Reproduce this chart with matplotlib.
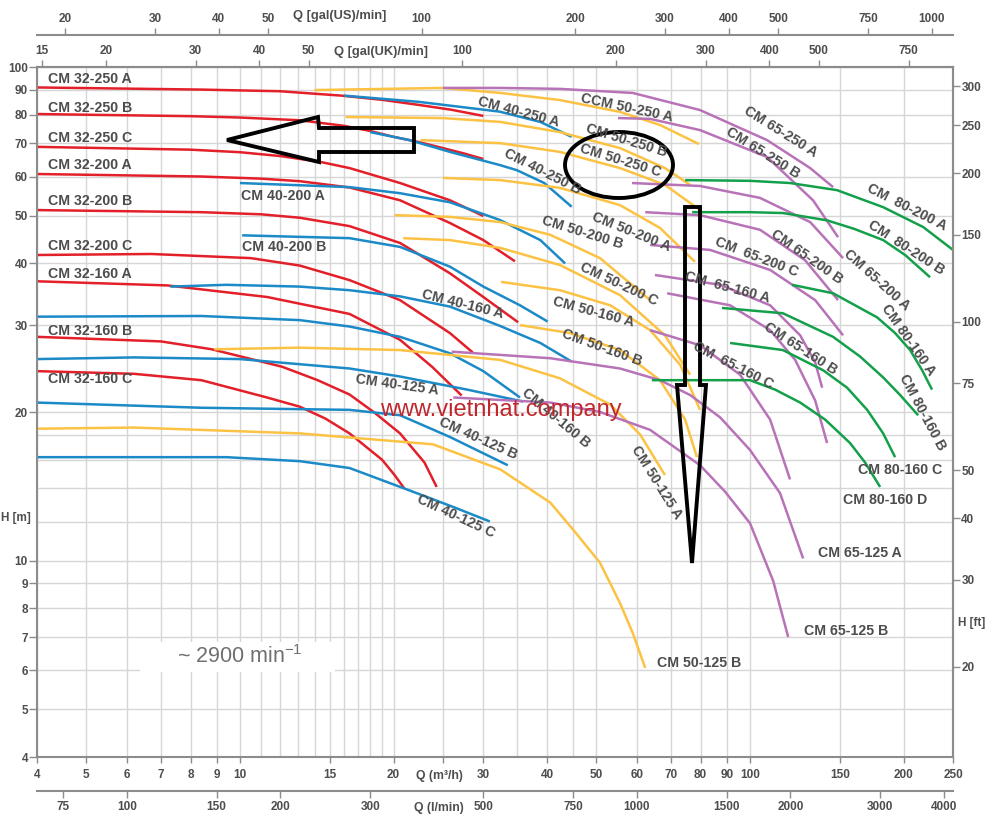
import matplotlib
matplotlib.use("Agg")
import matplotlib.pyplot as plt
from matplotlib.ticker import FixedLocator, NullLocator, NullFormatter
from matplotlib.patches import Polygon, Ellipse, Rectangle

# ---------------- data: Q [m3/h], H [m] ----------------
# CM 32 (red)
q_32_250_A = [4, 8.4, 12, 15.8, 19, 22.4, 26, 30]
h_32_250_A = [90.9, 90.0, 89.3, 87.5, 85.8, 83.8, 81.9, 79.6]
q_32_250_B = [4, 8, 10, 13.1, 16, 18, 20, 22.5, 25, 27.5, 30]
h_32_250_B = [80.3, 79.5, 79.0, 78.0, 76.0, 74.2, 72.2, 70.4, 68.5, 66.8, 65.1]
q_32_250_C = [4, 8, 10, 12, 14.4, 16.4, 20.6, 25.8, 30]
h_32_250_C = [68.9, 68.0, 67.2, 66.0, 64.2, 62.4, 58.2, 53.7, 49.9]
q_32_200_A = [4, 8.4, 11, 13.1, 16.4, 20.6, 25.8, 30, 34.6]
h_32_200_A = [60.7, 60.0, 59.4, 58.7, 57.0, 53.7, 48.3, 44.6, 40.4]
q_32_200_B = [4, 8.4, 11, 13.1, 16.4, 20.6, 25.8, 30, 35.1]
h_32_200_B = [51.3, 50.8, 50.3, 49.5, 47.6, 44.0, 38.2, 34.2, 30.4]
q_32_200_C = [4, 6.7, 10.5, 13.1, 16.4, 20.6, 25.8, 28.6]
h_32_200_C = [41.6, 41.8, 41.0, 39.6, 37.0, 33.7, 28.9, 26.4]
q_32_160_A = [4, 7.2, 11.3, 16.4, 20.6, 23.8, 27.2]
h_32_160_A = [36.8, 36.1, 34.2, 31.6, 28.0, 24.7, 21.6]
q_32_160_B = [4, 7.0, 8.8, 12.1, 14.2, 16.4, 18.4, 20.6, 23.0, 24.3]
h_32_160_B = [28.4, 27.8, 26.8, 24.7, 23.2, 21.7, 19.9, 18.1, 15.8, 14.1]
q_32_160_C = [4, 6.2, 8.4, 11.3, 13.1, 14.7, 16.4, 19.0, 20.1, 21.0]
h_32_160_C = [24.2, 23.9, 23.2, 21.4, 20.5, 19.4, 18.1, 16.0, 14.9, 14.0]

# CM 40 (blue)
q_40_250_A = [16.0, 22.4, 32.3, 38.8, 44.7]
h_40_250_A = [87.5, 85.0, 81.2, 77.4, 72.2]
q_40_250_B = [18.0, 21.5, 25.8, 32.3, 34.9, 39.5, 44.7]
h_40_250_B = [73.8, 71.1, 67.3, 63.3, 61.8, 58.2, 52.1]
q_40_200_A = [10.0, 16.4, 20.6, 25.8, 32.3, 38.8, 43.4]
h_40_200_A = [58.2, 57.1, 55.5, 53.2, 49.0, 44.6, 40.0]
q_40_200_B = [10.1, 16.4, 20.6, 25.8, 30.0, 35.4, 40.1]
h_40_200_B = [45.6, 45.0, 43.2, 39.4, 35.9, 32.9, 30.5]
q_40_160_A = [7.3, 9.4, 13.1, 16.4, 20.6, 25.8, 32.3, 38.8, 44.7]
h_40_160_A = [35.9, 36.2, 35.9, 35.3, 34.3, 32.7, 29.9, 27.6, 25.3]
q_40_160_B = [4, 8.4, 13.1, 16.4, 20.6, 25.8, 30, 35.4]
h_40_160_B = [31.2, 31.3, 30.7, 29.8, 28.4, 26.3, 24.2, 21.4]
q_40_125_A = [4, 6.2, 10, 16.4, 20.6, 27.9, 35.9]
h_40_125_A = [25.6, 25.8, 25.6, 24.5, 23.6, 22.2, 21.0]
q_40_125_B = [4, 8.4, 16.4, 20.6, 25.8, 33.5]
h_40_125_B = [20.9, 20.4, 20.2, 19.7, 17.8, 15.6]
q_40_125_C = [4, 9.4, 13.1, 16.4, 22.2, 26.4, 30.9]
h_40_125_C = [16.2, 16.2, 15.9, 15.4, 13.7, 12.8, 12.0]

# CM 50 (yellow)
q_50_250_A = [14.0, 25.0, 32.4, 42.4, 55.6, 66.6, 79.4]
h_50_250_A = [89.8, 90.7, 88.6, 85.7, 81.1, 76.3, 69.8]
q_50_250_B = [16.1, 25.0, 32.4, 42.4, 55.6, 68.1, 76.3]
h_50_250_B = [79.2, 78.8, 77.4, 73.8, 68.5, 62.4, 57.7]
q_50_250_C = [22.6, 32.4, 42.4, 55.6, 68.1, 79.8]
h_50_250_C = [71.1, 70.1, 67.3, 62.4, 57.7, 51.3]
q_50_200_A = [25.0, 32.4, 42.4, 55.6, 66.6, 78.0]
h_50_200_A = [59.6, 59.0, 56.9, 52.5, 47.2, 40.3]
q_50_200_B = [20.1, 25.8, 32.4, 40.6, 50.8, 63.7]
h_50_200_B = [50.1, 49.7, 48.5, 45.7, 41.0, 33.7]
q_50_200_C = [20.9, 25.8, 32.4, 42.4, 55.6, 68.1, 76.3]
h_50_200_C = [45.0, 44.6, 43.0, 39.7, 34.5, 28.6, 23.8]
q_50_160_A = [32.5, 42.4, 53.2, 63.7, 73.0, 79.8]
h_50_160_A = [36.7, 35.3, 32.9, 29.3, 24.9, 20.2]
q_50_160_B = [35.4, 44.4, 55.6, 66.6, 74.6, 78.7]
h_50_160_B = [30.0, 28.9, 26.7, 23.2, 19.3, 16.2]
q_50_125_A = [8.9, 13.1, 20.6, 32.4, 42.4, 53.2, 60.9, 68.1]
h_50_125_A = [26.8, 27.0, 26.7, 25.5, 23.4, 20.7, 18.0, 14.9]
q_50_125_B = [4, 6.2, 13.1, 23.9, 32.4, 40.6, 45.0, 50.8, 55.6, 58.9, 62.3]
h_50_125_B = [18.5, 18.6, 18.1, 17.2, 15.3, 13.1, 11.55, 9.9, 8.2, 7.13, 6.06]

# CM 65 (purple)
q_65_250_A = [25.0, 32.4, 42.4, 58.9, 79.8, 108, 131.2, 145.5]
h_65_250_A = [90.7, 90.7, 90.3, 88.6, 81.8, 71.1, 62.4, 57.1]
q_65_250_B = [55.1, 63.7, 79.8, 108, 132.9, 148.8]
h_65_250_B = [78.8, 78.5, 74.5, 65.7, 53.7, 45.2]
q_65_200_A = [58.7, 79.8, 104.6, 131.2, 152.2]
h_65_200_A = [58.2, 57.4, 54.3, 48.5, 41.0]
q_65_200_B = [62.3, 79.8, 104.6, 128.2, 148.8]
h_65_200_B = [50.8, 50.1, 46.8, 40.6, 33.7]
q_65_200_C = [63.7, 83.5, 109.5, 134.2, 152.2]
h_65_200_C = [43.6, 42.6, 38.8, 33.7, 28.6]
q_65_160_A = [65.1, 87.4, 109.5, 125.4, 134.2, 138.5]
h_65_160_A = [37.9, 36.2, 32.9, 28.6, 25.2, 22.4]
q_65_160_B = [68.8, 91.4, 109.5, 122.6, 134.2, 141.6]
h_65_160_B = [34.8, 32.9, 29.3, 25.5, 21.1, 17.3]
q_65_160_C = [63.7, 79.8, 95.6, 109.5, 119.8]
h_65_160_C = [29.3, 27.3, 23.8, 19.3, 14.6]
q_65_125_A = [26.0, 40.6, 55.6, 66.6, 76.3, 87.4, 100, 114.5, 127.1]
h_65_125_A = [26.5, 25.7, 24.5, 23.2, 21.65, 19.5, 16.75, 13.7, 10.1]
q_65_125_B = [26.2, 40.6, 50.8, 63.7, 79.8, 89.3, 100, 111, 118.8]
h_65_125_B = [21.4, 20.9, 20.0, 18.4, 15.6, 13.8, 11.9, 9.1, 7.0]

# CM 80 (green)
q_80_200_A = [74.6, 100, 119.8, 148.1, 182.4, 218.5, 250]
h_80_200_A = [59.0, 58.8, 58.2, 56.3, 52.0, 47.4, 42.6]
q_80_200_B = [77.0, 100, 116, 141.6, 160, 182.4, 201.4, 225.4]
h_80_200_B = [50.8, 50.8, 50.6, 48.9, 47.0, 44.6, 41.6, 37.5]
q_80_160_A = [120.9, 145.5, 177.5, 192.5, 206, 217.5, 227.4]
h_80_160_A = [36.2, 34.8, 31.1, 28.9, 26.7, 24.3, 22.2]
q_80_160_B = [88.1, 116, 145.5, 164.4, 182.4, 196.9, 213.6]
h_80_160_B = [32.5, 31.7, 28.4, 25.9, 23.5, 21.65, 19.7]
q_80_160_C = [91.4, 116, 139.1, 155, 169.7, 182.4, 192.5]
h_80_160_C = [27.6, 26.7, 24.3, 22.4, 20.2, 18.1, 16.2]
q_80_160_D = [64.2, 100, 112, 125.4, 140.4, 157.1, 168.1, 179.9]
h_80_160_D = [23.2, 23.2, 22.2, 20.9, 19.3, 17.3, 15.8, 14.1]

# axis ticks
q_ticks = [4, 5, 6, 7, 8, 9, 10, 15, 20, 25, 30, 40, 50, 60, 70, 80, 90, 100, 150, 200, 250]
q_tick_labels = ['4', '5', '6', '7', '8', '9', '10', '15', '20', '', '30', '40', '50', '60',
                 '70', '80', '90', '100', '150', '200', '250']
q_grid_minor = [11, 12, 13, 14, 16, 17, 18, 19, 35, 45]
h_ticks = [4, 5, 6, 7, 8, 9, 10, 20, 30, 40, 50, 60, 70, 80, 90, 100]
h_grid_minor = [12, 14, 16, 18]
ft_ticks = [20, 30, 40, 50, 75, 100, 150, 200, 250, 300]
lmin_ticks = [75, 100, 150, 200, 300, 500, 750, 1000, 1500, 2000, 3000, 4000]
uk_ticks = [15, 20, 30, 40, 50, 100, 200, 300, 400, 500, 750]
us_ticks = [20, 30, 40, 50, 100, 200, 300, 400, 500, 750, 1000]

# ---------------- style ----------------
plt.rcParams['font.family'] = ['Liberation Sans', 'DejaVu Sans']
plt.rcParams['mathtext.fontset'] = 'custom'
plt.rcParams['mathtext.rm'] = 'Liberation Sans'
plt.rcParams['mathtext.it'] = 'Liberation Sans'
plt.rcParams['mathtext.bf'] = 'Liberation Sans:bold'

RED, BLUE, YEL, PUR, GRN = '#e3202a', '#1b8ac7', '#fcc244', '#b873b8', '#14a04b'
TXT = '#4d4d4d'
AXC = '#8c8c8c'
GRID = '#d6d6d6'

fig = plt.figure(figsize=(10, 8.22), dpi=100)
ax = fig.add_axes([0.037, 1 - 757 / 822, 0.916, 690 / 822])
ax.set_xscale('log')
ax.set_yscale('log')
ax.set_xlim(4, 250)
ax.set_ylim(4, 100)

ax.set_xticks(q_ticks, labels=q_tick_labels)
ax.set_yticks(h_ticks, labels=[str(t) for t in h_ticks])
ax.xaxis.set_minor_locator(FixedLocator(q_grid_minor))
ax.yaxis.set_minor_locator(FixedLocator(h_grid_minor))
ax.xaxis.set_minor_formatter(NullFormatter())
ax.yaxis.set_minor_formatter(NullFormatter())
ax.grid(True, which='both', color=GRID, lw=1.0)
ax.set_axisbelow(True)
ax.tick_params(which='minor', length=0)
ax.tick_params(axis='x', which='major', length=4.5, width=1, color=AXC, pad=4,
               labelsize=8.5, labelcolor=TXT)
ax.tick_params(axis='y', which='major', length=5.5, width=1, color=AXC, pad=1,
               labelsize=8.5, labelcolor=TXT)
for lab in ax.get_xticklabels() + ax.get_yticklabels():
    lab.set_fontweight('bold')
for s in ax.spines.values():
    s.set_color(AXC)
    s.set_linewidth(1.5)


def style_sec(sec, axis, pad):
    sec.tick_params(axis=axis, which='major', length=5, width=1, color=AXC, pad=pad,
                    labelsize=8.5, labelcolor=TXT)
    if axis == 'x':
        sec.xaxis.set_minor_locator(NullLocator())
        labs = sec.get_xticklabels()
    else:
        sec.yaxis.set_minor_locator(NullLocator())
        labs = sec.get_yticklabels()
    for lab in labs:
        lab.set_fontweight('bold')
    for s in sec.spines.values():
        s.set_color(AXC)
        s.set_linewidth(1.5)


uk = ax.secondary_xaxis('top', functions=(lambda q: q * 3.6662, lambda g: g / 3.6662))
uk.set_xticks(uk_ticks, labels=[str(t) for t in uk_ticks])
style_sec(uk, 'x', 2)

us = ax.secondary_xaxis(1 + 32 / 690, functions=(lambda q: q * 4.4029, lambda g: g / 4.4029))
us.set_xticks(us_ticks, labels=[str(t) for t in us_ticks])
style_sec(us, 'x', 2)

lm = ax.secondary_xaxis(-34 / 690, functions=(lambda q: q * 16.667, lambda l: l / 16.667))
lm.set_xticks(lmin_ticks, labels=[str(t) for t in lmin_ticks])
style_sec(lm, 'x', 2)

ft = ax.secondary_yaxis('right', functions=(lambda h: h * 3.28084, lambda f: f / 3.28084))
ft.set_yticks(ft_ticks, labels=[str(t) for t in ft_ticks])
style_sec(ft, 'y', 1)

# ---------------- curves ----------------
curves = [
    (q_32_250_A, h_32_250_A, RED), (q_32_250_B, h_32_250_B, RED), (q_32_250_C, h_32_250_C, RED),
    (q_32_200_A, h_32_200_A, RED), (q_32_200_B, h_32_200_B, RED), (q_32_200_C, h_32_200_C, RED),
    (q_32_160_A, h_32_160_A, RED), (q_32_160_B, h_32_160_B, RED), (q_32_160_C, h_32_160_C, RED),
    (q_40_250_A, h_40_250_A, BLUE), (q_40_250_B, h_40_250_B, BLUE), (q_40_200_A, h_40_200_A, BLUE),
    (q_40_200_B, h_40_200_B, BLUE), (q_40_160_A, h_40_160_A, BLUE), (q_40_160_B, h_40_160_B, BLUE),
    (q_40_125_A, h_40_125_A, BLUE), (q_40_125_B, h_40_125_B, BLUE), (q_40_125_C, h_40_125_C, BLUE),
    (q_50_250_A, h_50_250_A, YEL), (q_50_250_B, h_50_250_B, YEL), (q_50_250_C, h_50_250_C, YEL),
    (q_50_200_A, h_50_200_A, YEL), (q_50_200_B, h_50_200_B, YEL), (q_50_200_C, h_50_200_C, YEL),
    (q_50_160_A, h_50_160_A, YEL), (q_50_160_B, h_50_160_B, YEL), (q_50_125_A, h_50_125_A, YEL),
    (q_50_125_B, h_50_125_B, YEL),
    (q_65_250_A, h_65_250_A, PUR), (q_65_250_B, h_65_250_B, PUR), (q_65_200_A, h_65_200_A, PUR),
    (q_65_200_B, h_65_200_B, PUR), (q_65_200_C, h_65_200_C, PUR), (q_65_160_A, h_65_160_A, PUR),
    (q_65_160_B, h_65_160_B, PUR), (q_65_160_C, h_65_160_C, PUR), (q_65_125_A, h_65_125_A, PUR),
    (q_65_125_B, h_65_125_B, PUR),
    (q_80_200_A, h_80_200_A, GRN), (q_80_200_B, h_80_200_B, GRN), (q_80_160_A, h_80_160_A, GRN),
    (q_80_160_B, h_80_160_B, GRN), (q_80_160_C, h_80_160_C, GRN), (q_80_160_D, h_80_160_D, GRN),
]
for q, h, c in curves:
    ax.plot(q, h, color=c, lw=1.8, solid_joinstyle='round', solid_capstyle='butt', zorder=2)

# ---------------- labels (figure pixel positions) ----------------
def F(x, y):
    return x / 1000, 1 - y / 822


left_labels = ['CM 32-250 A', 'CM 32-250 B', 'CM 32-250 C', 'CM 32-200 A', 'CM 32-200 B',
               'CM 32-200 C', 'CM 32-160 A', 'CM 32-160 B', 'CM 32-160 C',
               'CM 40-200 A', 'CM 40-200 B', 'CM 50-125 B', 'CM 65-125 A', 'CM 65-125 B',
               'CM 80-160 C', 'CM 80-160 D']
left_x = [48, 48, 48, 48, 48, 48, 48, 48, 48, 241, 242, 657, 818, 804, 858, 843]
left_y = [79, 108, 138, 165, 201, 246, 274, 331, 379, 196, 247, 663, 553, 631, 470, 500]
for t, x, y in zip(left_labels, left_x, left_y):
    fig.text(*F(x, y), t, ha='left', va='center', fontsize=10.2, fontweight='bold', color=TXT)

rot_labels = ['CM 40-250 A', 'CM 40-250 B', 'CCM 50-250 A', 'CM 50-250 B', 'CM 50-250 C',
              'CM 50-200 A', 'CM 50-200 B', 'CM 50-200 C', 'CM 50-160 A', 'CM 50-160 B',
              'CM 40-160 A', 'CM 40-125 A', 'CM 40-125 B', 'CM 40-125 C', 'CM 40-160 B',
              'CM 50-125 A', 'CM 65-250 A', 'CM 65-250 B', 'CM 65-200 A', 'CM 65-200 B',
              'CM  65-200 C', 'CM  65-160 A', 'CM 65-160 B', 'CM  65-160 C',
              'CM  80-200 A', 'CM  80-200 B', 'CM 80-160 A', 'CM 80-160 B']
rot_x = [519, 542, 627, 626, 620, 631, 582, 619, 593, 602, 463, 397, 478, 456, 556, 657,
         781, 763, 877, 807, 757, 727, 801, 733, 907, 906, 908, 922]
rot_y = [112, 172, 108, 140, 160, 232, 232, 284, 312, 348, 304, 385, 439, 516, 418, 482,
         132, 153, 280, 257, 257, 287, 349, 365, 207, 248, 340, 412]
rot_a = [-15, -27, -12, -17, -17, -22, -17, -25, -15, -20, -14, -8, -24, -25, -40, -58,
         -32, -32, -42, -35, -21, -15, -33, -27, -27, -33, -55, -62]
for t, x, y, a in zip(rot_labels, rot_x, rot_y, rot_a):
    fig.text(*F(x, y), t, ha='center', va='center', rotation=a, rotation_mode='anchor',
             fontsize=10.2, fontweight='bold', color=TXT)

# axis titles
fig.text(*F(340, 16), 'Q [gal(US)/min]', ha='center', va='center', fontsize=9.3,
         fontweight='bold', color=TXT)
fig.text(*F(381, 52), 'Q [gal(UK)/min]', ha='center', va='center', fontsize=9.3,
         fontweight='bold', color=TXT)
fig.text(*F(439, 776), 'Q (m³/h)', ha='center', va='center', fontsize=8.8,
         fontweight='bold', color=TXT)
fig.text(*F(439, 808), 'Q (l/min)', ha='center', va='center', fontsize=8.8,
         fontweight='bold', color=TXT)
fig.text(*F(1, 518), 'H [m]', ha='left', va='center', fontsize=8.5, fontweight='bold', color=TXT)
fig.text(*F(958, 623), 'H [ft]', ha='left', va='center', fontsize=8.5, fontweight='bold', color=TXT)

# speed note in white box
ax.add_patch(Rectangle(F(140, 672), 195 / 1000, 30 / 822, transform=fig.transFigure,
                       facecolor='white', edgecolor='none', zorder=1, clip_on=False))
fig.text(*F(240, 657), r'~ 2900 min$^{-1}$', ha='center', va='center', fontsize=15.5,
         color='#6f6f6f')

# watermark
fig.text(*F(380, 410), 'www.vietnhat.company', ha='left', va='center', fontsize=17,
         color='#c0272d')

# hand-drawn annotations
left_arrow = [F(227, 140), F(318, 117), F(319, 128), F(414, 128), F(414, 152), F(319, 152),
              F(319, 162)]
ax.add_patch(Polygon(left_arrow, closed=True, fill=False, edgecolor='black', lw=2.8,
                     joinstyle='miter', transform=fig.transFigure, clip_on=False, zorder=6))
down_arrow = [F(685, 207), F(700, 207), F(700, 385), F(706, 385), F(692, 563), F(677, 385),
              F(685, 385)]
ax.add_patch(Polygon(down_arrow, closed=True, fill=False, edgecolor='black', lw=2.8,
                     joinstyle='miter', transform=fig.transFigure, clip_on=False, zorder=6))
ax.add_patch(Ellipse(F(619, 165), 108 / 1000, 66 / 822, fill=False, edgecolor='black', lw=2.8,
                     transform=fig.transFigure, clip_on=False, zorder=6))

fig.savefig('out.png', dpi=100)
